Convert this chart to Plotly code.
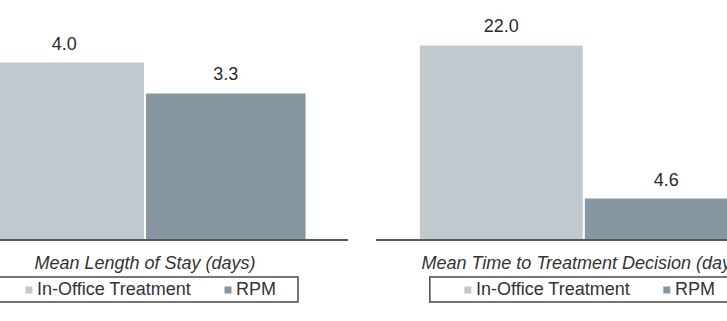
import plotly.graph_objects as go

# ---------------- data ----------------
series_names = ["In-Office Treatment", "RPM"]
left_category = ["Mean Length of Stay (days)"]
right_category = ["Mean Time to Treatment Decision (days)"]
in_office_length_of_stay = [4.0]
rpm_length_of_stay = [3.3]
in_office_time_to_decision = [22.0]
rpm_time_to_decision = [4.6]

# ---------------- style ----------------
W, H = 727, 321
colors = {"In-Office Treatment": "#bfc9ce", "RPM": "#8797a2"}
FONT = "Liberation Sans, Arial, sans-serif"
TEXT_COLOR = "#2a2a2a"
AXIS_COLOR = "#55595c"
BARGAP = 0.205

# subplot geometry (pixels)
left_dom_px = (0.0, 348.3)
right_dom_px = (376.3, 727.0)
left_range = [-0.3565, 0.5]
right_range = [-0.5, 0.345]
plot_bottom_px = 239.0
left_ymax = 5.42
right_ymax = 27.16

fig = go.Figure()

panels = [
    ("x", "y", left_category, [in_office_length_of_stay, rpm_length_of_stay]),
    ("x2", "y2", right_category, [in_office_time_to_decision, rpm_time_to_decision]),
]

for xa, ya, cat, value_sets in panels:
    for name, vals in zip(series_names, value_sets):
        fig.add_trace(go.Bar(
            x=cat, y=vals, name=name, xaxis=xa, yaxis=ya,
            offsetgroup=name, marker=dict(color=colors[name], line=dict(width=0)),
            showlegend=False, hoverinfo="skip",
        ))
        fig.add_trace(go.Scatter(
            x=cat, y=vals, xaxis=xa, yaxis=ya, offsetgroup=name,
            mode="markers+text", text=[f"{v:.1f}" for v in vals],
            textposition="top center",
            textfont=dict(family=FONT, size=18, color=TEXT_COLOR),
            marker=dict(size=12, color="rgba(0,0,0,0)"),
            cliponaxis=False, showlegend=False, hoverinfo="skip",
        ))


def px(x):
    return x / W


def py(y):
    return 1 - y / H


axis_common = dict(
    type="category", showline=True, linecolor=AXIS_COLOR, linewidth=2,
    ticks="outside", ticklen=6, tickcolor="rgba(0,0,0,0)",
    showgrid=False, zeroline=False, fixedrange=True,
    tickfont=dict(family=FONT, size=18, color="#333333", style="italic"),
)
yaxis_common = dict(visible=False, showgrid=False, zeroline=False, fixedrange=True)

fig.update_layout(
    width=W, height=H, margin=dict(l=0, r=0, t=0, b=0, pad=0, autoexpand=False),
    paper_bgcolor="white", plot_bgcolor="white",
    barmode="group", bargap=BARGAP, bargroupgap=0.0125,
    scattermode="group", scattergap=BARGAP,
    showlegend=False,
    xaxis=dict(domain=[px(left_dom_px[0]), px(left_dom_px[1])], range=left_range,
               anchor="y", **axis_common),
    xaxis2=dict(domain=[px(right_dom_px[0]), px(right_dom_px[1])], range=right_range,
                anchor="y2", **axis_common),
    yaxis=dict(domain=[py(plot_bottom_px), 1], range=[0, left_ymax], anchor="x", **yaxis_common),
    yaxis2=dict(domain=[py(plot_bottom_px), 1], range=[0, right_ymax], anchor="x2", **yaxis_common),
)


# ---------------- per-panel legend boxes ----------------
def center_px(dom, rng):
    return dom[0] + (0 - rng[0]) / (rng[1] - rng[0]) * (dom[1] - dom[0])


shapes, annotations = [], []
box_top, box_bottom = 277.0, 302.0
sq_half = 3.5
sq_cy = 290.0
text_cy = 288.7
for dom, rng in [(left_dom_px, left_range), (right_dom_px, right_range)]:
    c = center_px(dom, rng)
    shapes.append(dict(type="rect", xref="paper", yref="paper",
                       x0=px(c - 154), x1=px(c + 153), y0=py(box_bottom), y1=py(box_top),
                       line=dict(color="#4a4a4a", width=1.5), fillcolor="rgba(0,0,0,0)"))
    for name, sq_off, txt_off in [(series_names[0], -116, -110), (series_names[1], 83, 89.5)]:
        shapes.append(dict(type="rect", xref="paper", yref="paper",
                           x0=px(c + sq_off - sq_half), x1=px(c + sq_off + sq_half),
                           y0=py(sq_cy + sq_half), y1=py(sq_cy - sq_half),
                           line=dict(width=0), fillcolor=colors[name]))
        annotations.append(dict(xref="paper", yref="paper", x=px(c + txt_off), y=py(text_cy),
                                xanchor="left", yanchor="middle", showarrow=False,
                                text=name, font=dict(family=FONT, size=18, color="#333333")))

fig.update_layout(shapes=shapes, annotations=annotations)

fig.write_html("out.html")
